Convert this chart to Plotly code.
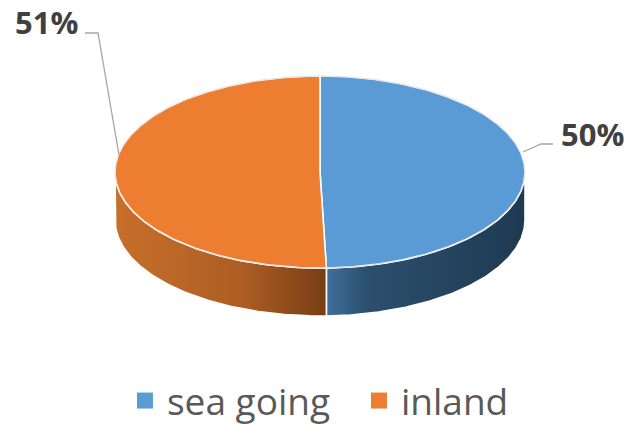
import numpy as np
import plotly.graph_objects as go

categories = ["sea going", "inland"]
values = [50, 51]
labels = ["50%", "51%"]
top_colors = ["#5b9bd5", "#ed7d31"]
side_scales = [
    [[0, "#3f6f9c"], [0.2, "#2c4f6e"], [1, "#1e3a52"]],
    [[0, "#c76f2b"], [0.6, "#ad5e24"], [1, "#773d14"]],
]

CX, CY, RX, RY, DEPTH = 320, 172, 205, 96, 48
W, H = 629, 432


def ellipse(theta, dy=0.0):
    return CX + RX * np.sin(theta), CY - RY * np.cos(theta) + dy


fig = go.Figure()
shares = np.array(values, dtype=float) / sum(values)
edges = np.concatenate([[0], np.cumsum(shares)]) * 2 * np.pi

for i, cat in enumerate(categories):
    a0, a1 = edges[i], edges[i + 1]
    lo, hi = max(a0, np.pi / 2), min(a1, 3 * np.pi / 2)
    t = np.linspace(lo, hi, 120)
    xt, yt = ellipse(t)
    xb, yb = ellipse(t, DEPTH)
    sx = np.concatenate([xt, xb[::-1], xt[:1]])
    sy = np.concatenate([yt, yb[::-1], yt[:1]])
    fig.add_trace(go.Scatter(
        x=sx, y=sy, mode="lines", fill="toself",
        line=dict(color="white", width=1.6),
        fillgradient=dict(type="horizontal", colorscale=side_scales[i], start=sx.min(), stop=sx.max()),
        showlegend=False, hoverinfo="skip"))

for i, cat in enumerate(categories):
    t = np.linspace(edges[i], edges[i + 1], 240)
    xt, yt = ellipse(t)
    fig.add_trace(go.Scatter(
        x=np.concatenate([[CX], xt, [CX]]), y=np.concatenate([[CY], yt, [CY]]),
        mode="lines", fill="toself", fillcolor=top_colors[i],
        line=dict(color="white", width=1.6),
        showlegend=False, hoverinfo="skip"))
    fig.add_trace(go.Scatter(
        x=[None], y=[None], mode="markers", name=cat,
        marker=dict(symbol="square", size=20, color=top_colors[i])))

t = np.linspace(0, 2 * np.pi, 360)
xo, yo = ellipse(t)
fig.add_trace(go.Scatter(x=xo, y=yo, mode="lines", line=dict(color="#d9d9d9", width=0.8),
                         showlegend=False, hoverinfo="skip"))

fig.add_trace(go.Scatter(x=[523, 541, 553], y=[152, 144, 144], mode="lines",
                         line=dict(color="#a6a6a6", width=1.3), showlegend=False, hoverinfo="skip"))
fig.add_trace(go.Scatter(x=[85, 98, 119], y=[33, 33, 155], mode="lines",
                         line=dict(color="#a6a6a6", width=1.3), showlegend=False, hoverinfo="skip"))

for txt, x, y in [(labels[0], 592, 134), (labels[1], 46, 22)]:
    fig.add_annotation(x=x, y=y, text=f"<b>{txt}</b>", showarrow=False, xref="x", yref="y",
                       font=dict(family="Open Sans", size=31, color="#404040"))

fig.update_layout(
    width=W, height=H, margin=dict(l=0, r=0, t=0, b=0),
    paper_bgcolor="white", plot_bgcolor="white",
    xaxis=dict(visible=False, range=[0, W], fixedrange=True),
    yaxis=dict(visible=False, range=[H, 0], fixedrange=True),
    legend=dict(orientation="h", x=0.1955, xanchor="left", y=0.0, yanchor="bottom",
                entrywidth=185, entrywidthmode="pixels", itemwidth=34,
                font=dict(family="Open Sans", size=37, color="#595959"),
                bgcolor="rgba(0,0,0,0)", itemsizing="trace"),
)
fig.write_html("out.html", config={"displayModeBar": False},
               post_script="document.body.style.margin='0';document.documentElement.style.overflow='hidden';")
